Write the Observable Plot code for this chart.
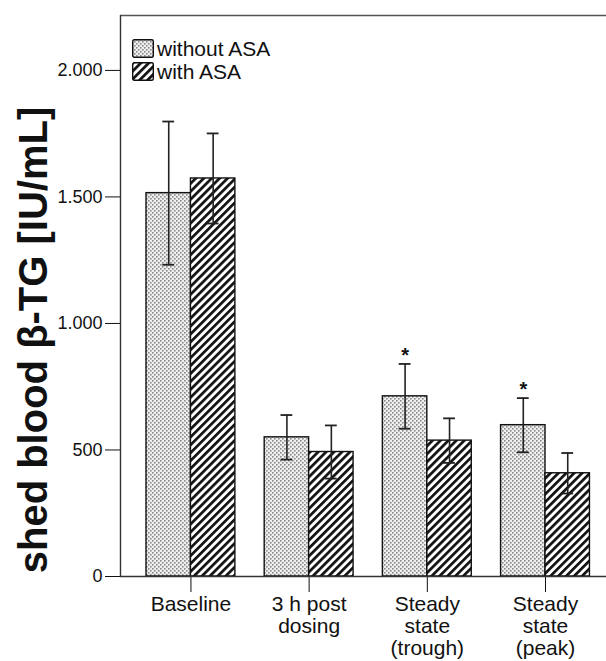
<!DOCTYPE html>
<html>
<head>
<meta charset="utf-8">
<script src="https://cdn.jsdelivr.net/npm/d3@7"></script>
<script src="https://cdn.jsdelivr.net/npm/@observablehq/plot@0.6"></script>
<style>
  html, body { margin: 0; padding: 0; background: #fff; }
  #wrap { position: relative; width: 606px; height: 661px; font-family: "Liberation Sans", Arial, sans-serif; }
  #legend { position: absolute; left: 132px; top: 37px; font-size: 21px; color: #111; }
  #legend .row { display: flex; align-items: center; height: 23px; }
  #legend svg { margin-right: 3px; }
</style>
</head>
<body>
<div id="wrap"></div>
<script>
// ---- data ----
const categories = ["Baseline", "3 h post\ndosing", "Steady\nstate\n(trough)", "Steady\nstate\n(peak)"];
const groups = ["without ASA", "with ASA"];
const meanWithout = [1515, 550, 712, 598];
const sdWithout = [283, 88, 128, 107];
const meanWith = [1573, 492, 537, 408];
const sdWith = [178, 105, 88, 80];
const starWithout = [false, false, true, true];
const yTicks = [0, 500, 1000, 1500, 2000];

// ---- layout parameters ----
const barW = 0.376;            // bar width in category steps
const capW = 0.05;             // half cap width in category steps
const xDomain = [-0.596, 3.516];
const yDomain = [0, 2217];

const rows = [];
categories.forEach((c, i) => {
  rows.push({i, cat: c, group: groups[0], mean: meanWithout[i], sd: sdWithout[i], x1: i - barW, x2: i, star: starWithout[i]});
  rows.push({i, cat: c, group: groups[1], mean: meanWith[i], sd: sdWith[i], x1: i, x2: i + barW, star: false});
});
rows.forEach(d => { d.xc = (d.x1 + d.x2) / 2; d.lo = d.mean - d.sd; d.hi = d.mean + d.sd; });
const catRows = categories.map((c, i) => ({i, label: c}));

const fmt = d => d >= 1000 ? d3.format(",")(d).replace(",", ".") : String(d);

const plot = Plot.plot({
  width: 606,
  height: 661,
  marginLeft: 120,
  marginRight: 0,
  marginTop: 15,
  marginBottom: 85,
  style: {fontSize: "18px", fontFamily: "Liberation Sans, Arial, sans-serif", color: "#111", background: "#fff", overflow: "visible"},
  x: {type: "linear", domain: xDomain, ticks: [0, 1, 2, 3], tickSize: 16, tickFormat: () => "", label: null},
  y: {domain: yDomain, ticks: yTicks, tickSize: 15, tickPadding: 3, tickFormat: fmt, label: null},
  color: {type: "ordinal", domain: groups, range: ["url(#dots)", "url(#hatch)"]},
  marks: [
    Plot.rectY(rows, {x1: "x1", x2: "x2", y1: 0, y2: "mean", fill: "group", stroke: "#111", strokeWidth: 1.4}),
    Plot.ruleX(rows, {x: "xc", y1: "lo", y2: "hi", stroke: "#222", strokeWidth: 1.6}),
    Plot.ruleY(rows, {y: "hi", x1: d => d.xc - capW, x2: d => d.xc + capW, stroke: "#222", strokeWidth: 1.8}),
    Plot.ruleY(rows, {y: "lo", x1: d => d.xc - capW, x2: d => d.xc + capW, stroke: "#222", strokeWidth: 1.8}),
    Plot.text(rows.filter(d => d.star), {x: "xc", y: "hi", text: () => "*", fontSize: 20, fontWeight: "bold", lineAnchor: "bottom", dy: -2, fill: "#111"}),
    Plot.ruleY([yDomain[0]], {stroke: "#333", strokeWidth: 1.4}),
    Plot.ruleY([yDomain[1]], {stroke: "#555", strokeWidth: 1.4}),
    Plot.ruleX([xDomain[0]], {stroke: "#333", strokeWidth: 1.4}),
    Plot.text(catRows, {x: "i", y: 0, text: "label", lineAnchor: "top", dy: 19, fontSize: 21, lineHeight: 1.05, fill: "#111"}),
    Plot.text(["shed blood β-TG [IU/mL]"], {frameAnchor: "left", textAnchor: "middle", lineAnchor: "middle", text: d => d, rotate: -90, dx: -86, dy: 44, fontSize: 40, fontWeight: "bold", fill: "#111"})
  ]
});

const ns = "http://www.w3.org/2000/svg";
const defs = document.createElementNS(ns, "defs");
defs.innerHTML = `
  <pattern id="dots" patternUnits="userSpaceOnUse" width="4" height="4">
    <rect width="4" height="4" fill="#efefef"/>
    <rect x="0" y="0" width="1.6" height="1.6" fill="#8a8a8a"/>
    <rect x="2" y="2" width="1.6" height="1.6" fill="#8a8a8a"/>
  </pattern>
  <pattern id="hatch" patternUnits="userSpaceOnUse" width="5.6" height="5.6" patternTransform="rotate(45)">
    <rect width="5.6" height="5.6" fill="#fff"/>
    <rect x="0" y="0" width="2.7" height="5.6" fill="#111"/>
  </pattern>`;
plot.insertBefore(defs, plot.firstChild);

const wrap = document.getElementById("wrap");
wrap.appendChild(plot);

const legend = document.createElement("div");
legend.id = "legend";
legend.innerHTML = groups.map((g, k) => `
  <div class="row">
    <svg width="22" height="19"><rect x="0.7" y="0.7" width="20.6" height="17.6" rx="1.5" fill="${k === 0 ? "url(#dots)" : "url(#hatch)"}" stroke="#111" stroke-width="1.4"/></svg>
    <span>${g}</span>
  </div>`).join("");
wrap.appendChild(legend);
</script>
</body>
</html>
